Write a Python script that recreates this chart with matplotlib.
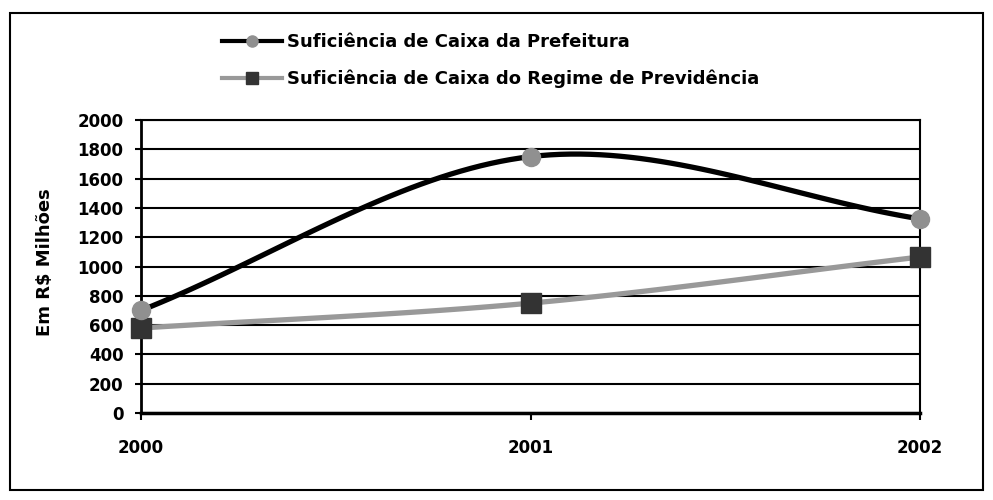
import numpy as np
import matplotlib
matplotlib.use('Agg')
import matplotlib.pyplot as plt
from matplotlib.lines import Line2D
from matplotlib.patches import Rectangle

plt.rcParams['font.family'] = ['DejaVu Sans']
plt.rcParams['font.weight'] = 'bold'

anos = [2000, 2001, 2002]
prefeitura = [700, 1750, 1325]
previdencia = [580, 750, 1065]
nome_pref = 'Suficiência de Caixa da Prefeitura'
nome_prev = 'Suficiência de Caixa do Regime de Previdência'


def suavizar(x, y, n=40):
    # curva suave tipo Excel (Bezier), pontos fantasmas refletidos nas pontas
    x = np.asarray(x, float)
    y = np.asarray(y, float)
    px = np.concatenate([[2 * x[0] - x[1]], x, [2 * x[-1] - x[-2]]])
    py = np.concatenate([[2 * y[0] - y[1]], y, [2 * y[-1] - y[-2]]])
    xs, ys = [], []
    t = np.linspace(0, 1, n)
    for i in range(1, len(px) - 2):
        p0 = np.array([px[i], py[i]])
        p3 = np.array([px[i + 1], py[i + 1]])
        p1 = p0 + (np.array([px[i + 1], py[i + 1]]) - np.array([px[i - 1], py[i - 1]])) / 6
        p2 = p3 - (np.array([px[i + 2], py[i + 2]]) - np.array([px[i], py[i]])) / 6
        b = ((1 - t) ** 3)[:, None] * p0 + (3 * (1 - t) ** 2 * t)[:, None] * p1 \
            + (3 * (1 - t) * t ** 2)[:, None] * p2 + (t ** 3)[:, None] * p3
        xs.extend(b[:, 0])
        ys.extend(b[:, 1])
    return xs, ys


fig = plt.figure(figsize=(9.93, 5.0), dpi=100)
ax = fig.add_axes([141 / 993, 1 - 413 / 500, (920 - 141) / 993, (413 - 120) / 500])

# moldura externa
fig.patches.append(Rectangle((10 / 993, 10 / 500), 973 / 993, 477 / 500, transform=fig.transFigure,
                             fill=False, edgecolor='black', linewidth=1.5))

sx, sy = suavizar(anos, previdencia)
ax.plot(sx, sy, color='#999999', linewidth=3.8, solid_capstyle='butt', zorder=3)
ax.plot(anos, previdencia, linestyle='none', marker='s', markersize=15, color='#333333',
        zorder=4, clip_on=False)

sx, sy = suavizar(anos, prefeitura)
ax.plot(sx, sy, color='black', linewidth=3.8, solid_capstyle='butt', zorder=3)
ax.plot(anos, prefeitura, linestyle='none', marker='o', markersize=13, color='#909090',
        zorder=4, clip_on=False)

ax.set_xlim(2000, 2002)
ax.set_ylim(0, 2000)
ax.set_yticks(range(0, 2001, 200))
ax.set_xticks(anos)
ax.set_xticklabels([str(a) for a in anos])
ax.yaxis.grid(True, color='black', linewidth=1.5)
ax.set_axisbelow(True)
for s in ['top', 'right']:
    ax.spines[s].set_linewidth(1.5)
ax.spines['left'].set_linewidth(2)
ax.spines['bottom'].set_linewidth(2.5)
ax.tick_params(axis='y', direction='out', length=4.5, width=1.5, labelsize=12, pad=8)
ax.tick_params(axis='x', direction='out', length=5, width=1.5, labelsize=12, pad=14)
for lb in ax.get_xticklabels() + ax.get_yticklabels():
    lb.set_fontweight('bold')

fig.text(45 / 993, 1 - 262 / 500, 'Em R$ Milhões', rotation=90, ha='center', va='center',
         fontsize=13, fontweight='bold')

h1 = Line2D([], [], color='black', linewidth=3, marker='o', markersize=8,
            markerfacecolor='#909090', markeredgecolor='#909090')
h2 = Line2D([], [], color='#999999', linewidth=3, marker='s', markersize=9,
            markerfacecolor='#333333', markeredgecolor='#333333')
fig.legend([h1, h2], [nome_pref, nome_prev], loc='upper left',
           bbox_to_anchor=(222 / 993, 1 - 33 / 500), frameon=False, borderpad=0, borderaxespad=0,
           prop={'size': 13, 'weight': 'bold'}, handlelength=3.3, handletextpad=0.28,
           labelspacing=1.05)

fig.savefig('out.png', dpi=100)
